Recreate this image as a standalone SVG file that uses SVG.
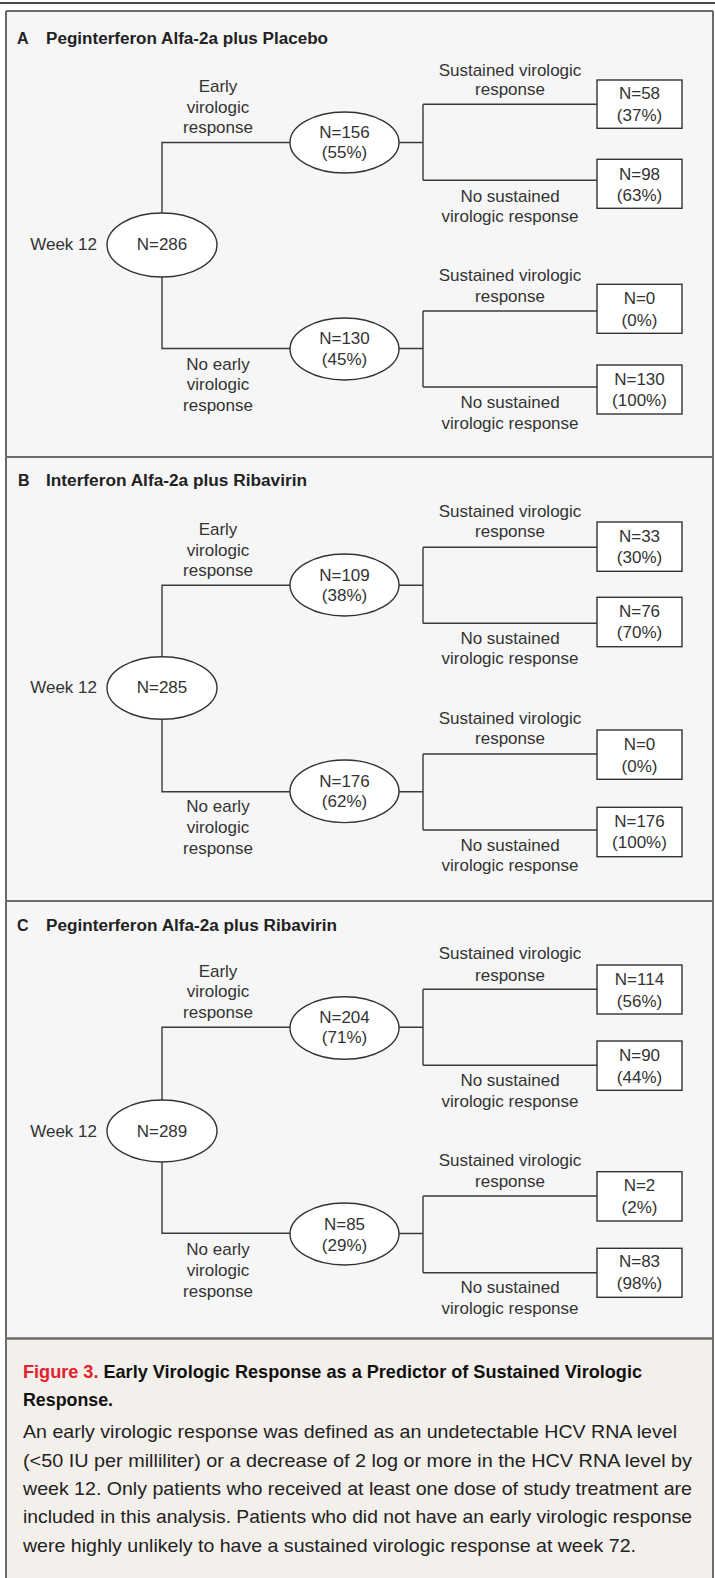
<svg xmlns="http://www.w3.org/2000/svg" width="715" height="1578" viewBox="0 0 715 1578">
<defs>
<style>
.conn path{fill:none;stroke:#3a3a3a;stroke-width:1.4}
.node ellipse,.node rect{fill:#fff;stroke:#333;stroke-width:1.4}
text{font-family:"Liberation Sans",Arial,sans-serif;fill:#333}
.t{font-size:17px;text-anchor:middle}
.wk{font-size:17px;text-anchor:end}
.title{font-size:16px;font-weight:bold;fill:#222}
.capb{font-size:19px;font-weight:bold;fill:#111}
.cap{font-size:19px;fill:#222}
.red{fill:#e3202b}
.sep{stroke:#6b6b6b;stroke-width:2;fill:none}
</style>
</defs>
<rect x="0" y="0" width="715" height="1578" fill="#fff"/>
<rect x="6" y="11" width="707" height="1328" fill="#f6f6f6"/>
<rect x="6" y="1339" width="707" height="239" fill="#f3efea"/>
<line x1="0" y1="3" x2="715" y2="3" stroke="#111" stroke-width="1.5"/>
<path class="sep" d="M6,11 H713 M6,11 V1578 M713,11 V1578 M6,457 H713 M6,901 H713"/>
<line x1="6" y1="1338.5" x2="713" y2="1338.5" stroke="#6b6b6b" stroke-width="2.5"/>

<!-- Panel titles -->
<g id="titleA"><text class="title" x="17" y="44">A</text><text class="title" x="46" y="44" textLength="282" lengthAdjust="spacingAndGlyphs">Peginterferon Alfa-2a plus Placebo</text></g>
<g id="titleB"><text class="title" x="18" y="486">B</text><text class="title" x="46" y="486" textLength="261" lengthAdjust="spacingAndGlyphs">Interferon Alfa-2a plus Ribavirin</text></g>
<g id="titleC"><text class="title" x="17" y="930.7">C</text><text class="title" x="46" y="930.7" textLength="291" lengthAdjust="spacingAndGlyphs">Peginterferon Alfa-2a plus Ribavirin</text></g>

<g id="connectors" class="conn">
<!-- A -->
<path d="M162,213 V142.5 H290"/>
<path d="M162,277 V348.5 H290"/>
<path d="M399,142.5 H423 M423,104.3 V180.3 M423,104.3 H597 M423,180.3 H597"/>
<path d="M399,348.5 H423 M423,311 V387 M423,311 H597 M423,387 H597"/>
<!-- B -->
<path d="M162,656.7 V585.3 H290"/>
<path d="M162,719.3 V791.7 H290"/>
<path d="M399,585.3 H423 M423,547.3 V623.3 M423,547.3 H597 M423,623.3 H597"/>
<path d="M399,791.7 H423 M423,754 V830 M423,754 H597 M423,830 H597"/>
<!-- C -->
<path d="M162,1100 V1027.3 H290"/>
<path d="M162,1162 V1233.3 H290"/>
<path d="M399,1027.3 H423 M423,989.3 V1065.3 M423,989.3 H597 M423,1065.3 H597"/>
<path d="M399,1233.5 H423 M423,1196 V1272.7 M423,1196 H597 M423,1272.7 H597"/>
</g>

<g id="labels">
<!-- A -->
<text class="wk" x="97" y="250">Week 12</text>
<text class="t" x="218" y="92">Early</text><text class="t" x="218" y="112.5">virologic</text><text class="t" x="218" y="133">response</text>
<text class="t" x="218" y="369.5">No early</text><text class="t" x="218" y="390">virologic</text><text class="t" x="218" y="411">response</text>
<text class="t" x="510" y="76">Sustained virologic</text><text class="t" x="510" y="95">response</text>
<text class="t" x="510" y="201.5">No sustained</text><text class="t" x="510" y="221.5">virologic response</text>
<text class="t" x="510" y="280.7">Sustained virologic</text><text class="t" x="510" y="301.5">response</text>
<text class="t" x="510" y="408.3">No sustained</text><text class="t" x="510" y="428.8">virologic response</text>
<!-- B -->
<text class="wk" x="97" y="693.3">Week 12</text>
<text class="t" x="218" y="535">Early</text><text class="t" x="218" y="555.7">virologic</text><text class="t" x="218" y="576">response</text>
<text class="t" x="218" y="812.3">No early</text><text class="t" x="218" y="833.3">virologic</text><text class="t" x="218" y="854">response</text>
<text class="t" x="510" y="517.3">Sustained virologic</text><text class="t" x="510" y="537.3">response</text>
<text class="t" x="510" y="644">No sustained</text><text class="t" x="510" y="664">virologic response</text>
<text class="t" x="510" y="724">Sustained virologic</text><text class="t" x="510" y="744">response</text>
<text class="t" x="510" y="850.7">No sustained</text><text class="t" x="510" y="870.7">virologic response</text>
<!-- C -->
<text class="wk" x="97" y="1136.7">Week 12</text>
<text class="t" x="218" y="976.7">Early</text><text class="t" x="218" y="997.3">virologic</text><text class="t" x="218" y="1018.3">response</text>
<text class="t" x="218" y="1255">No early</text><text class="t" x="218" y="1276">virologic</text><text class="t" x="218" y="1296.7">response</text>
<text class="t" x="510" y="959.3">Sustained virologic</text><text class="t" x="510" y="980.7">response</text>
<text class="t" x="510" y="1086">No sustained</text><text class="t" x="510" y="1107.3">virologic response</text>
<text class="t" x="510" y="1166">Sustained virologic</text><text class="t" x="510" y="1187.3">response</text>
<text class="t" x="510" y="1292.7">No sustained</text><text class="t" x="510" y="1314">virologic response</text>
</g>

<!-- Panel A nodes -->
<g id="A_root" class="node"><ellipse cx="162" cy="245" rx="55" ry="32"/><text class="t" x="162" y="250">N=286</text></g>
<g id="A_evr" class="node"><ellipse cx="344.5" cy="142.5" rx="54.5" ry="30.5"/><text class="t" x="344.5" y="137.5">N=156</text><text class="t" x="344.5" y="158">(55%)</text></g>
<g id="A_noevr" class="node"><ellipse cx="344.5" cy="349" rx="54.5" ry="31"/><text class="t" x="344.5" y="344">N=130</text><text class="t" x="344.5" y="364.5">(45%)</text></g>
<g id="A_b1" class="node"><rect x="597" y="80" width="85" height="48.3"/><text class="t" x="639.5" y="99">N=58</text><text class="t" x="639.5" y="121">(37%)</text></g>
<g id="A_b2" class="node"><rect x="597" y="159.3" width="85" height="49"/><text class="t" x="639.5" y="179.5">N=98</text><text class="t" x="639.5" y="201">(63%)</text></g>
<g id="A_b3" class="node"><rect x="597" y="284.3" width="85" height="49"/><text class="t" x="639.5" y="304">N=0</text><text class="t" x="639.5" y="326">(0%)</text></g>
<g id="A_b4" class="node"><rect x="597" y="365" width="85" height="49"/><text class="t" x="639.5" y="384.5">N=130</text><text class="t" x="639.5" y="406">(100%)</text></g>

<!-- Panel B nodes -->
<g id="B_root" class="node"><ellipse cx="162" cy="688" rx="55" ry="31.3"/><text class="t" x="162" y="693.3">N=285</text></g>
<g id="B_evr" class="node"><ellipse cx="344.5" cy="585" rx="54.5" ry="31"/><text class="t" x="344.5" y="580.7">N=109</text><text class="t" x="344.5" y="601">(38%)</text></g>
<g id="B_noevr" class="node"><ellipse cx="344.5" cy="791.3" rx="54.5" ry="31.3"/><text class="t" x="344.5" y="786.7">N=176</text><text class="t" x="344.5" y="807.3">(62%)</text></g>
<g id="B_b1" class="node"><rect x="597" y="522" width="85" height="49.3"/><text class="t" x="639.5" y="541.7">N=33</text><text class="t" x="639.5" y="563.3">(30%)</text></g>
<g id="B_b2" class="node"><rect x="597" y="597.3" width="85" height="49.4"/><text class="t" x="639.5" y="616.7">N=76</text><text class="t" x="639.5" y="638.3">(70%)</text></g>
<g id="B_b3" class="node"><rect x="597" y="730" width="85" height="49.3"/><text class="t" x="639.5" y="750">N=0</text><text class="t" x="639.5" y="771.7">(0%)</text></g>
<g id="B_b4" class="node"><rect x="597" y="807.3" width="85" height="49.4"/><text class="t" x="639.5" y="826.7">N=176</text><text class="t" x="639.5" y="848.3">(100%)</text></g>

<!-- Panel C nodes -->
<g id="C_root" class="node"><ellipse cx="162" cy="1131" rx="55" ry="31"/><text class="t" x="162" y="1136.7">N=289</text></g>
<g id="C_evr" class="node"><ellipse cx="344.5" cy="1028" rx="54.5" ry="31.3"/><text class="t" x="344.5" y="1022.7">N=204</text><text class="t" x="344.5" y="1043.3">(71%)</text></g>
<g id="C_noevr" class="node"><ellipse cx="344.5" cy="1234" rx="54.5" ry="31"/><text class="t" x="344.5" y="1230">N=85</text><text class="t" x="344.5" y="1250.7">(29%)</text></g>
<g id="C_b1" class="node"><rect x="597" y="965" width="85" height="49"/><text class="t" x="639.5" y="985">N=114</text><text class="t" x="639.5" y="1006.7">(56%)</text></g>
<g id="C_b2" class="node"><rect x="597" y="1041" width="85" height="49.3"/><text class="t" x="639.5" y="1060.7">N=90</text><text class="t" x="639.5" y="1082.7">(44%)</text></g>
<g id="C_b3" class="node"><rect x="597" y="1171.7" width="85" height="49.3"/><text class="t" x="639.5" y="1190.7">N=2</text><text class="t" x="639.5" y="1212.7">(2%)</text></g>
<g id="C_b4" class="node"><rect x="597" y="1248.3" width="85" height="49"/><text class="t" x="639.5" y="1267.3">N=83</text><text class="t" x="639.5" y="1289.3">(98%)</text></g>

<g id="caption">
<text class="capb" x="23" y="1378.3" textLength="619" lengthAdjust="spacingAndGlyphs"><tspan class="red">Figure 3.</tspan> Early Virologic Response as a Predictor of Sustained Virologic</text>
<text class="capb" x="23" y="1405.7" textLength="90" lengthAdjust="spacingAndGlyphs">Response.</text>
<text class="cap" x="23" y="1438.3" textLength="654" lengthAdjust="spacingAndGlyphs">An early virologic response was defined as an undetectable HCV RNA level</text>
<text class="cap" x="23" y="1466.7" textLength="669" lengthAdjust="spacingAndGlyphs">(&lt;50 IU per milliliter) or a decrease of 2 log or more in the HCV RNA level by</text>
<text class="cap" x="23" y="1495.2" textLength="669" lengthAdjust="spacingAndGlyphs">week 12. Only patients who received at least one dose of study treatment are</text>
<text class="cap" x="23" y="1523.3" textLength="669" lengthAdjust="spacingAndGlyphs">included in this analysis. Patients who did not have an early virologic response</text>
<text class="cap" x="23" y="1551.7" textLength="613" lengthAdjust="spacingAndGlyphs">were highly unlikely to have a sustained virologic response at week 72.</text>
</g>
</svg>
